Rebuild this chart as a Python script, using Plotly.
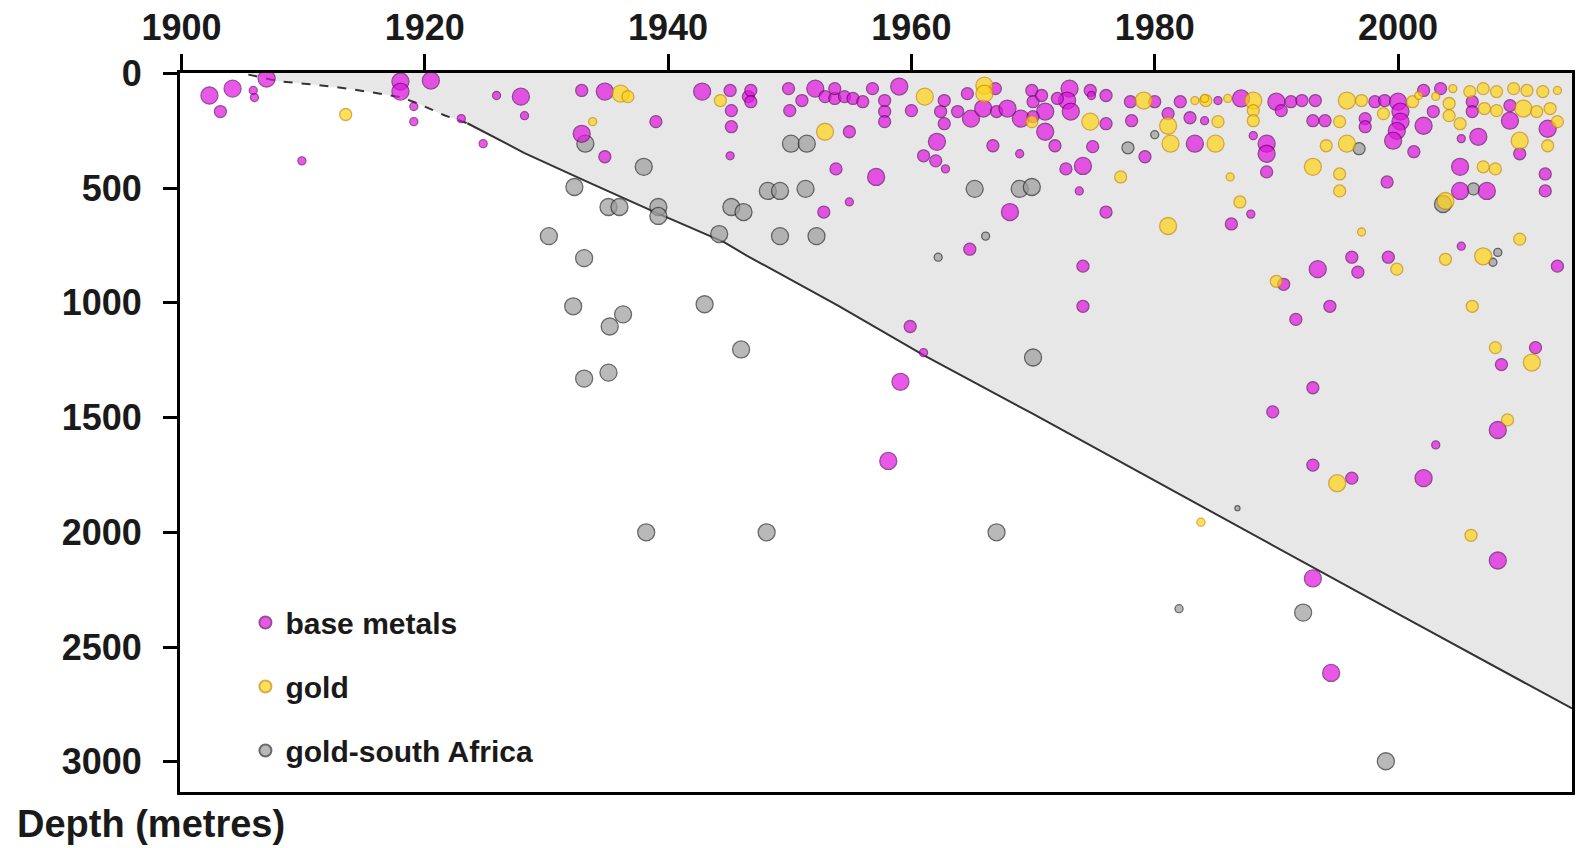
import plotly.graph_objects as go

# ---------------- data ----------------
# size class: 3 = large, 2 = medium, 1 = small, 0 = tiny
gray_year = [1930.2, 1932.3, 1933.1, 1932.2, 1936.3, 1935.2, 1933.1, 1935.1, 1933.2, 1935.1,
             1936.0, 1938.0, 1939.2, 1939.2, 1938.2, 1943.0, 1944.2, 1945.2, 1946.2, 1946.0,
             1948.1, 1948.2, 1949.2, 1949.2, 1950.1, 1951.4, 1951.3, 1952.2, 1962.2, 1966.1,
             1965.2, 1968.9, 1969.9, 1967.0, 1970.0, 1977.8, 1980.0, 1982.0, 1986.8, 1992.2,
             1999.0, 1996.8, 2003.7, 2006.2, 2008.2, 2007.8]
gray_depth = [709, 495, 805, 1015, 1050, 1103, 1330, 1304, 306, 582,
              582, 407, 582, 621, 2000, 1006, 700, 582, 604, 1203,
              2000, 512, 512, 709, 306, 306, 503, 709, 801, 709,
              503, 503, 495, 2000, 1238, 324, 267, 2333, 1895, 2350,
              2998, 328, 569, 503, 780, 823]
gray_cls = [3, 3, 3, 3, 3, 3, 3, 3, 3, 3,
            3, 3, 3, 3, 3, 3, 3, 3, 3, 3,
            3, 3, 3, 3, 3, 3, 3, 3, 1, 1,
            3, 3, 3, 3, 3, 2, 1, 1, 0, 3,
            3, 2, 3, 2, 1, 1]

base_year = [1902.3, 1904.2, 1907.0, 1903.2, 1905.9, 1906.0, 1918.0, 1918.0, 1920.5, 1919.1,
             1919.1, 1923.0, 1909.9, 1925.9, 1927.9, 1928.2, 1924.8, 1932.9, 1934.8, 1932.9,
             1934.8, 1939.0, 1942.8, 1945.1, 1945.2, 1945.2, 1945.1, 1946.6, 1946.8, 1946.8,
             1949.9, 1950.0, 1951.0, 1952.1, 1952.9, 1953.7, 1954.5, 1955.2, 1956.0, 1953.7,
             1954.9, 1956.8, 1959.0, 1957.8, 1957.8, 1957.8, 1960.0, 1953.8, 1957.1, 1952.8,
             1954.9, 1962.1, 1961.0, 1962.0, 1962.8, 1962.7, 1962.4, 1962.7, 1964.6, 1964.9,
             1963.8, 1965.9, 1967.0, 1967.9, 1969.0, 1966.9, 1966.7, 1968.9, 1968.1, 1964.8,
             1959.9, 1961.0, 1959.1, 1958.1, 1969.9, 1970.0, 1970.7, 1971.0, 1970.0, 1973.0,
             1972.8, 1973.1, 1972.0, 1974.7, 1974.8, 1976.0, 1971.0, 1971.8, 1974.9, 1976.0,
             1974.1, 1972.7, 1973.8, 1976.0, 1974.1, 1974.1, 1978.0, 1978.1, 1979.2, 1980.0,
             1981.1, 1982.1, 1982.9, 1983.3, 1984.1, 1985.2, 1987.1, 1988.1, 1989.2, 1989.2,
             1989.2, 1990.0, 1990.4, 1991.2, 1992.1, 1986.3, 1987.9, 1990.6, 1991.6, 1993.2,
             1993.0, 1994.0, 1997.3, 1997.3, 1998.1, 1998.9, 2000.0, 2000.2, 2000.2, 1999.9,
             1999.6, 2002.1, 2002.1, 2003.5, 2002.9, 2001.3, 1999.1, 2006.1, 2006.1, 2005.2,
             2006.6, 2005.1, 2005.1, 2007.3, 2009.2, 2009.2, 2012.3, 2010.0, 2012.1, 2012.1,
             1996.2, 1996.7, 1993.4, 1999.2, 1994.4, 2005.2, 2013.1, 2011.3, 1993.0, 1989.7,
             1993.0, 1996.2, 2002.1, 2003.1, 2008.5, 2008.2, 2008.2, 1993.0, 1994.5]
base_depth = [96, 66, 22, 166, 74, 105, 35, 79, 31, 144,
              210, 197, 381, 96, 101, 184, 306, 74, 79, 263,
              363, 210, 79, 74, 162, 232, 359, 101, 74, 123,
              66, 162, 118, 66, 101, 109, 101, 109, 123, 66,
              254, 66, 57, 118, 166, 210, 162, 416, 451, 604,
              560, 298, 359, 381, 416, 118, 166, 219, 88, 197,
              166, 153, 166, 153, 197, 66, 315, 350, 604, 766,
              1103, 1217, 1344, 1689, 74, 123, 96, 166, 188, 66,
              118, 166, 109, 74, 96, 96, 254, 315, 319, 219,
              403, 416, 512, 604, 840, 1015, 123, 206, 363, 123,
              175, 123, 193, 306, 206, 118, 109, 271, 306, 350,
              429, 123, 162, 123, 118, 656, 613, 919, 1072, 118,
              206, 206, 197, 232, 123, 118, 123, 166, 210, 250,
              293, 74, 228, 66, 166, 341, 473, 123, 166, 284,
              276, 407, 512, 512, 206, 140, 241, 350, 438, 512,
              801, 866, 853, 801, 1015, 753, 840, 1195, 1370, 1475,
              1707, 1764, 1764, 1619, 1269, 1554, 2123, 2201, 2613]
base_cls = [3, 3, 3, 2, 1, 1, 3, 3, 3, 1,
            1, 1, 1, 1, 3, 1, 1, 2, 3, 3,
            2, 2, 3, 2, 2, 2, 1, 2, 2, 2,
            2, 2, 2, 3, 2, 2, 2, 2, 2, 2,
            2, 2, 3, 2, 2, 2, 2, 2, 3, 2,
            1, 3, 2, 2, 1, 2, 2, 2, 2, 3,
            2, 3, 2, 3, 3, 2, 2, 1, 3, 2,
            2, 1, 3, 3, 2, 2, 2, 3, 2, 3,
            3, 3, 2, 2, 1, 2, 3, 2, 2, 2,
            3, 2, 1, 2, 2, 2, 2, 2, 2, 2,
            2, 2, 2, 3, 1, 1, 3, 1, 3, 3,
            2, 3, 2, 2, 2, 2, 1, 2, 2, 2,
            2, 2, 2, 2, 2, 2, 3, 3, 3, 3,
            3, 2, 3, 2, 2, 2, 2, 2, 2, 1,
            3, 3, 3, 3, 3, 2, 3, 2, 2, 2,
            2, 2, 3, 2, 2, 1, 2, 2, 2, 2,
            2, 2, 3, 1, 2, 3, 3, 3, 3]

gold_year = [1913.5, 1936.1, 1936.7, 1933.8, 1944.3, 1961.1, 1966.0, 1966.0, 1952.9, 1979.1,
             1984.2, 1983.3, 1974.7, 1981.1, 1981.3, 1985.0, 1985.2, 1988.1, 1988.1, 1988.1,
             1969.9, 1977.2, 1981.1, 1986.2, 1987.0, 1990.0, 1984.1, 1986.0, 1995.8, 1997.0,
             1995.2, 1995.8, 1994.1, 1993.0, 1995.2, 1995.2, 1998.8, 2001.2, 2004.2, 2004.2,
             2005.1, 2004.5, 2005.9, 2007.0, 2008.1, 2009.5, 2010.6, 2011.9, 2013.1, 2007.1,
             2008.1, 2010.3, 2011.4, 2012.5, 2010.0, 2012.3, 2013.1, 2007.0, 2008.0, 2003.9,
             1997.0, 2003.9, 2007.0, 2010.0, 1999.9, 2006.1, 2008.0, 1995.0, 2011.0, 2009.0,
             2006.0, 1983.8, 2001.7, 2003.1]
gold_depth = [179, 88, 101, 210, 118, 101, 53, 88, 254, 118,
              118, 118, 210, 228, 306, 306, 210, 118, 162, 206,
              210, 451, 665, 451, 560, 906, 109, 109, 118, 118,
              210, 306, 315, 407, 438, 512, 175, 123, 131, 184,
              219, 66, 79, 66, 79, 66, 74, 79, 74, 153,
              162, 153, 166, 153, 293, 315, 210, 407, 416, 556,
              691, 810, 797, 722, 853, 1015, 1195, 1786, 1260, 1510,
              2013, 1956, 96, 100]
gold_cls = [2, 3, 2, 1, 2, 3, 3, 3, 3, 3,
            2, 1, 3, 3, 3, 3, 2, 3, 2, 2,
            2, 2, 3, 1, 2, 2, 1, 1, 3, 2,
            2, 3, 2, 3, 2, 2, 2, 2, 2, 2,
            2, 1, 2, 2, 2, 2, 2, 2, 1, 2,
            2, 3, 2, 2, 3, 2, 2, 2, 2, 3,
            1, 2, 3, 2, 2, 2, 2, 3, 3, 2,
            2, 1, 1, 1]

# boundary of the shaded field (deepest mining trend)
curve_year = [1905.5, 1908.0, 1910.6, 1913.4, 1916.1, 1918.0, 1919.4, 1921.6, 1923.5, 1928.2,
              1933.6, 1939.1, 1944.6, 1946.5, 1953.9, 1961.0, 1970.0, 1980.0, 1990.0, 2000.0, 2014.3]
curve_depth = [5, 34, 47, 64, 86, 103, 130, 182, 217, 347,
               478, 609, 735, 795, 1010, 1228, 1484, 1775, 2065, 2356, 2768]
dashed_until = 1922

x_ticks = [1900, 1920, 1940, 1960, 1980, 2000]
y_ticks = [0, 500, 1000, 1500, 2000, 2500, 3000]

# ---------------- styling ----------------
SIZE_PX = {3: 17, 2: 12, 1: 8, 0: 5}
FONT = "Liberation Sans, Arial, sans-serif"
TXT = "#1a1a1a"
X_RANGE = [1899.88, 2014.3]
Y_RANGE = [3132, -2]

fig = go.Figure()

fill_x = curve_year + [X_RANGE[1], curve_year[0]]
fill_y = curve_depth + [Y_RANGE[1], Y_RANGE[1]]
fig.add_trace(go.Scatter(x=fill_x, y=fill_y, mode="lines", fill="toself",
                         fillcolor="#e7e7e7", line=dict(width=0), hoverinfo="skip",
                         showlegend=False))

n_dash = sum(1 for x in curve_year if x <= dashed_until) + 1
fig.add_trace(go.Scatter(x=curve_year[:n_dash], y=curve_depth[:n_dash], mode="lines",
                         line=dict(color="#333333", width=2, dash="dash"),
                         hoverinfo="skip", showlegend=False))
fig.add_trace(go.Scatter(x=curve_year[n_dash - 1:], y=curve_depth[n_dash - 1:], mode="lines",
                         line=dict(color="#333333", width=2),
                         hoverinfo="skip", showlegend=False))


def add_series(name, xs, ys, cls, fill, edge, rank):
    fig.add_trace(go.Scatter(
        x=xs, y=ys, mode="markers", name=name, legendgroup=name, legendrank=rank,
        marker=dict(size=[SIZE_PX[c] for c in cls], color=fill,
                    line=dict(color=edge, width=1.3)),
    ))


add_series("gold-south Africa", gray_year, gray_depth, gray_cls, "#9c9c9c", "#2a2a2a", 3)
add_series("base metals", base_year, base_depth, base_cls, "#e212e2", "#6a086a", 1)
add_series("gold", gold_year, gold_depth, gold_cls, "#ffd414", "#c98a00", 2)

fig.update_layout(
    width=1576, height=848,
    margin=dict(l=180, r=4, t=73, b=56, autoexpand=False),
    paper_bgcolor="white", plot_bgcolor="white",
    font=dict(family=FONT, color=TXT),
    showlegend=True,
    legend=dict(x=0.047, y=0.272, xanchor="left", yanchor="top",
                bgcolor="rgba(0,0,0,0)", traceorder="grouped", tracegroupgap=22,
                itemsizing="constant",
                font=dict(family=FONT, size=30, color=TXT, weight="bold")),
    xaxis=dict(range=X_RANGE, side="top", tickvals=x_ticks, automargin=False,
               ticks="outside", ticklen=16, tickwidth=3, tickcolor="black",
               showline=True, linewidth=3, linecolor="black", mirror=True,
               showgrid=False, zeroline=False,
               tickfont=dict(family=FONT, size=36, color=TXT, weight="bold")),
    yaxis=dict(range=Y_RANGE, tickvals=y_ticks, automargin=False,
               ticks="outside", ticklen=14, tickwidth=3, tickcolor="black",
               ticklabelstandoff=14,
               showline=True, linewidth=3, linecolor="black", mirror=True,
               showgrid=False, zeroline=False,
               tickfont=dict(family=FONT, size=36, color=TXT, weight="bold")),
    annotations=[dict(text="Depth (metres)", xref="paper", yref="paper",
                      x=-0.1185, y=-0.0445, xanchor="left", yanchor="middle",
                      showarrow=False,
                      font=dict(family=FONT, size=38, color=TXT, weight="bold"))],
)

fig.write_html("out.html", config={"displayModeBar": False},
               post_script="document.body.style.margin='0';document.body.style.overflow='hidden';")
